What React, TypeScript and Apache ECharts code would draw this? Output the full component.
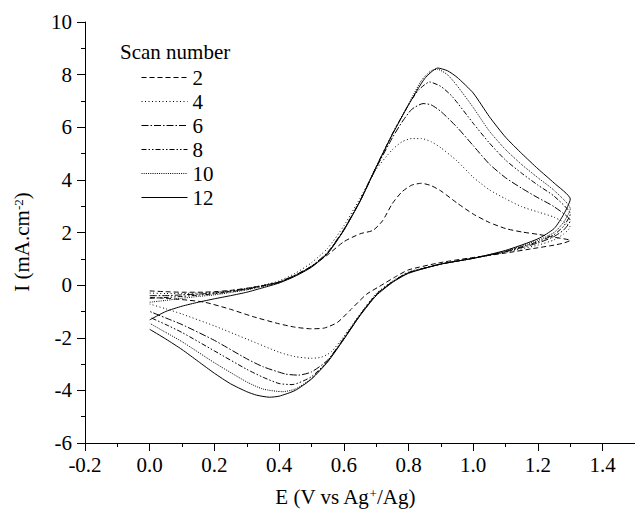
import { useEffect, useRef } from "react";
import * as echarts from "echarts";

type Pt = [number, number];

const scanNames = ["2", "4", "6", "8", "10", "12"];

const scan2: Pt[] = [
  [0, -0.22], [0.05, -0.25], [0.1, -0.27], [0.15, -0.27], [0.2, -0.25], [0.25, -0.2], [0.3, -0.12], [0.35, -0.02],
  [0.4, 0.12], [0.45, 0.38], [0.5, 0.72], [0.55, 1.15], [0.6, 1.65], [0.65, 1.95], [0.69, 2.08], [0.72, 2.45],
  [0.75, 3.1], [0.78, 3.55], [0.81, 3.8], [0.84, 3.87], [0.87, 3.78], [0.9, 3.58], [0.95, 3.12], [1.0, 2.7],
  [1.05, 2.38], [1.1, 2.15], [1.15, 2.02], [1.2, 1.93], [1.25, 1.82], [1.3, 1.7],
  [1.28, 1.6], [1.25, 1.52], [1.2, 1.42], [1.1, 1.22], [1.0, 1.05], [0.9, 0.86], [0.8, 0.58], [0.76, 0.32],
  [0.71, -0.05], [0.67, -0.35], [0.62, -0.95], [0.58, -1.42], [0.54, -1.63], [0.5, -1.66], [0.45, -1.6],
  [0.4, -1.47], [0.32, -1.2], [0.25, -0.92], [0.17, -0.65], [0.1, -0.55], [0.05, -0.5], [0, -0.47],
];

const scan4: Pt[] = [
  [0, -0.3], [0.05, -0.32], [0.1, -0.32], [0.15, -0.3], [0.2, -0.27], [0.25, -0.21], [0.3, -0.12], [0.35, 0.0],
  [0.4, 0.16], [0.45, 0.45], [0.5, 0.85], [0.55, 1.4], [0.6, 2.25], [0.65, 3.3], [0.7, 4.4], [0.75, 5.15],
  [0.78, 5.45], [0.81, 5.57], [0.84, 5.57], [0.87, 5.45], [0.9, 5.22], [0.95, 4.72], [1.0, 4.1], [1.05, 3.62],
  [1.1, 3.28], [1.15, 2.98], [1.2, 2.78], [1.25, 2.58], [1.3, 2.2],
  [1.28, 1.95], [1.25, 1.72], [1.2, 1.52], [1.1, 1.25], [1.0, 1.02], [0.9, 0.8], [0.8, 0.5], [0.75, 0.15],
  [0.7, -0.32], [0.65, -1.1], [0.6, -1.95], [0.56, -2.55], [0.53, -2.74], [0.5, -2.78], [0.45, -2.72],
  [0.4, -2.55], [0.3, -2.05], [0.2, -1.55], [0.1, -1.1], [0.05, -0.9], [0, -0.72],
];

const scan6: Pt[] = [
  [0, -0.4], [0.05, -0.4], [0.1, -0.37], [0.15, -0.34], [0.2, -0.3], [0.25, -0.23], [0.3, -0.14], [0.35, -0.02],
  [0.4, 0.12], [0.45, 0.38], [0.5, 0.72], [0.55, 1.25], [0.6, 2.12], [0.65, 3.2], [0.7, 4.45], [0.75, 5.6],
  [0.78, 6.2], [0.81, 6.68], [0.845, 6.9], [0.87, 6.85], [0.9, 6.6], [0.95, 6.0], [1.0, 5.3], [1.05, 4.6],
  [1.1, 4.08], [1.15, 3.68], [1.2, 3.32], [1.25, 2.98], [1.3, 2.45],
  [1.28, 2.1], [1.25, 1.85], [1.2, 1.6], [1.1, 1.27], [1.0, 1.02], [0.9, 0.8], [0.8, 0.48], [0.75, 0.13],
  [0.7, -0.35], [0.65, -1.13], [0.6, -2.02], [0.55, -2.85], [0.5, -3.3], [0.46, -3.42], [0.42, -3.38],
  [0.35, -3.1], [0.3, -2.8], [0.2, -2.1], [0.1, -1.5], [0.05, -1.25], [0, -1.0],
];

const scan8: Pt[] = [
  [0, -0.5], [0.05, -0.47], [0.1, -0.43], [0.15, -0.38], [0.2, -0.33], [0.25, -0.25], [0.3, -0.16], [0.35, -0.03],
  [0.4, 0.1], [0.45, 0.36], [0.5, 0.7], [0.55, 1.22], [0.6, 2.1], [0.65, 3.2], [0.7, 4.5], [0.75, 5.75],
  [0.8, 6.85], [0.83, 7.4], [0.865, 7.72], [0.9, 7.55], [0.935, 7.17], [1.0, 6.15], [1.05, 5.4], [1.1, 4.75],
  [1.15, 4.25], [1.2, 3.8], [1.25, 3.38], [1.3, 2.7],
  [1.28, 2.25], [1.25, 1.92], [1.2, 1.65], [1.1, 1.28], [1.0, 1.02], [0.9, 0.8], [0.8, 0.47], [0.75, 0.12],
  [0.7, -0.37], [0.65, -1.14], [0.6, -2.04], [0.55, -2.88], [0.5, -3.48], [0.44, -3.78], [0.4, -3.74],
  [0.35, -3.5], [0.3, -3.2], [0.2, -2.5], [0.1, -1.8], [0.05, -1.5], [0, -1.22],
];

const scan10: Pt[] = [
  [0, -0.65], [0.05, -0.58], [0.1, -0.5], [0.15, -0.43], [0.2, -0.37], [0.25, -0.28], [0.3, -0.18], [0.35, -0.05],
  [0.4, 0.1], [0.45, 0.36], [0.5, 0.7], [0.55, 1.22], [0.6, 2.1], [0.65, 3.2], [0.7, 4.5], [0.75, 5.75],
  [0.8, 6.88], [0.84, 7.78], [0.87, 8.15], [0.89, 8.2], [0.92, 8.0], [0.95, 7.58], [1.0, 6.75], [1.05, 5.85],
  [1.1, 5.15], [1.15, 4.58], [1.2, 4.08], [1.25, 3.6], [1.3, 2.9],
  [1.28, 2.4], [1.25, 2.0], [1.2, 1.7], [1.1, 1.3], [1.0, 1.02], [0.9, 0.8], [0.8, 0.46], [0.75, 0.11],
  [0.7, -0.38], [0.65, -1.15], [0.6, -2.05], [0.55, -2.9], [0.5, -3.55], [0.45, -3.95], [0.41, -4.05],
  [0.35, -3.95], [0.3, -3.68], [0.2, -2.95], [0.1, -2.15], [0.05, -1.8], [0, -1.45],
];

const scan12: Pt[] = [
  [0, -1.32], [0.05, -1.0], [0.1, -0.8], [0.15, -0.65], [0.2, -0.52], [0.25, -0.4], [0.3, -0.27], [0.35, -0.1],
  [0.4, 0.08], [0.45, 0.34], [0.5, 0.68], [0.55, 1.2], [0.6, 2.08], [0.65, 3.18], [0.7, 4.48], [0.75, 5.72],
  [0.8, 6.85], [0.85, 7.85], [0.89, 8.25], [0.92, 8.15], [0.95, 7.9], [1.0, 7.3], [1.05, 6.4], [1.1, 5.62],
  [1.15, 5.0], [1.2, 4.42], [1.25, 3.88], [1.3, 3.27],
  [1.28, 2.7], [1.25, 2.15], [1.2, 1.76], [1.1, 1.32], [1.0, 1.02], [0.9, 0.8], [0.8, 0.45], [0.75, 0.1],
  [0.7, -0.4], [0.65, -1.16], [0.6, -2.06], [0.55, -2.92], [0.5, -3.57], [0.45, -4.0], [0.4, -4.22],
  [0.37, -4.26], [0.33, -4.18], [0.3, -4.05], [0.25, -3.75], [0.2, -3.35], [0.15, -2.9], [0.1, -2.45],
  [0.05, -2.05], [0, -1.68],
];

const scanData: Pt[][] = [scan2, scan4, scan6, scan8, scan10, scan12];

const dashPatterns: (number[] | "solid")[] = [
  [5, 3],
  [1, 2.5],
  [7, 2, 1.5, 2],
  [5, 2, 1.5, 2, 1.5, 2],
  [1, 1.2],
  "solid",
];

const FONT = "'Liberation Serif', serif";

export default function App() {
  const ref = useRef<HTMLDivElement>(null);

  useEffect(() => {
    if (!ref.current) return;
    const chart = echarts.init(ref.current, undefined, { renderer: "svg" });
    const series = scanNames.map((name, i) => ({
      name,
      type: "line",
      data: scanData[i],
      showSymbol: false,
      symbol: "none",
      smooth: 0.2,
      lineStyle: { color: "#000", width: 1, type: dashPatterns[i] },
      itemStyle: { color: "#000" },
    }));
    chart.setOption({
      animation: false,
      backgroundColor: "#fff",
      grid: { left: 85, right: -7, top: 22, bottom: 71, containLabel: false },
      xAxis: {
        type: "value",
        min: -0.2,
        max: 1.5,
        interval: 0.2,
        axisLine: { show: true, onZero: false, lineStyle: { color: "#000", width: 1 } },
        axisTick: { show: true, inside: false, length: 8, lineStyle: { color: "#000" } },
        minorTick: { show: true, splitNumber: 2, length: 4, lineStyle: { color: "#000" } },
        splitLine: { show: false },
        axisLabel: {
          color: "#000",
          fontFamily: FONT,
          fontSize: 21,
          margin: 11,
          showMaxLabel: false,
          formatter: (v: number) => v.toFixed(1),
        },
      },
      yAxis: {
        type: "value",
        min: -6,
        max: 10,
        interval: 2,
        axisLine: { show: true, onZero: false, lineStyle: { color: "#000", width: 1 } },
        axisTick: { show: true, inside: false, length: 8, lineStyle: { color: "#000" } },
        minorTick: { show: true, splitNumber: 2, length: 4, lineStyle: { color: "#000" } },
        splitLine: { show: false },
        axisLabel: {
          color: "#000",
          fontFamily: FONT,
          fontSize: 21,
          margin: 13,
          formatter: (v: number) => String(v),
        },
      },
      legend: {
        show: true,
        orient: "vertical",
        left: 141,
        top: 67,
        padding: 0,
        itemWidth: 46,
        itemHeight: 15,
        itemGap: 3,
        data: scanNames,
        itemStyle: { opacity: 0 },
        lineStyle: { width: 1 },
        textStyle: { color: "#000", fontFamily: FONT, fontSize: 21 },
        selectedMode: false,
      },
      graphic: [
        {
          type: "text",
          x: 120,
          y: 52,
          style: {
            text: "Scan number",
            fill: "#000",
            font: `21px ${FONT}`,
            align: "left",
            verticalAlign: "middle",
          },
        },
        {
          type: "text",
          x: 345,
          y: 497,
          style: {
            text: "E (V vs Ag{sup|+}/Ag)",
            fill: "#000",
            fontFamily: FONT,
            fontSize: 21,
            align: "center",
            verticalAlign: "middle",
            rich: {
              sup: { fontFamily: FONT, fontSize: 13, verticalAlign: "top", fill: "#000" },
            },
          },
        },
        {
          type: "text",
          x: 22,
          y: 242,
          rotation: Math.PI / 2,
          style: {
            text: "I (mA.cm{sup|-2})",
            fill: "#000",
            fontFamily: FONT,
            fontSize: 21,
            align: "center",
            verticalAlign: "middle",
            rich: {
              sup: { fontFamily: FONT, fontSize: 13, verticalAlign: "top", fill: "#000" },
            },
          },
        },
      ],
      series,
    });
    return () => chart.dispose();
  }, []);

  return (
    <div
      ref={ref}
      style={{ position: "fixed", left: 0, top: 0, width: 635, height: 514, background: "#fff" }}
    />
  );
}
